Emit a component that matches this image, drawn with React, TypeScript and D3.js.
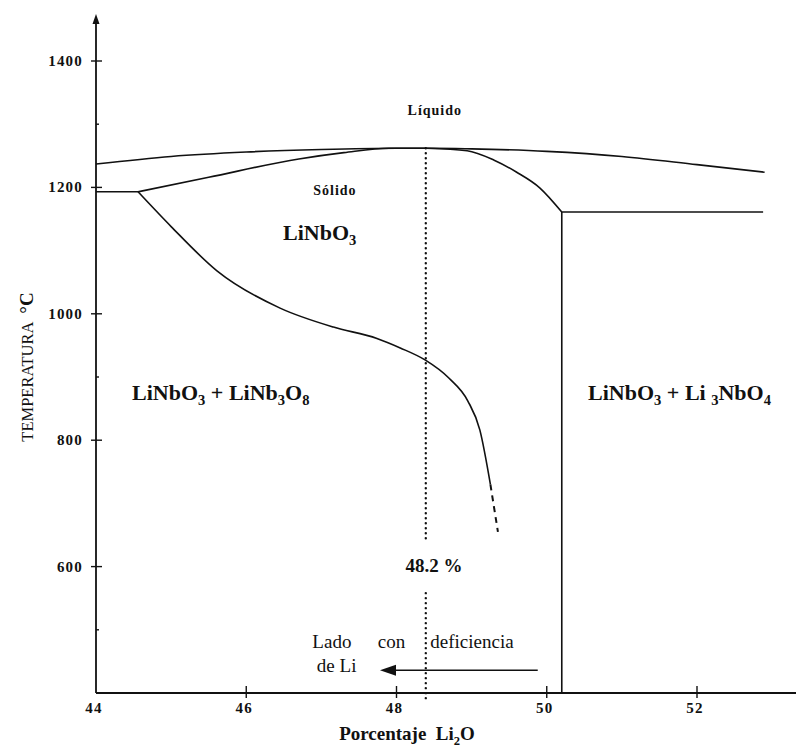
import * as d3 from 'd3'
import { useEffect, useRef } from 'react'

const WIDTH = 796
const HEIGHT = 749

// axis ticks
const yTicks = [600, 800, 1000, 1200, 1400]
const yMinorTicks = [500, 900, 1300]
const xTicks = [44, 46, 48, 50, 52]

// phase boundaries, [Li2O %, temperature °C]
const liquidus: [number, number][] = [
    [44, 1237], [45, 1249], [46, 1256], [47, 1260], [48, 1262], [48.5, 1262],
    [49, 1261], [50, 1257], [51, 1249], [52, 1236], [52.9, 1224],
]
const solidusLeftFlat: [number, number][] = [[44, 1193], [44.56, 1193]]
const solidusLeft: [number, number][] = [
    [44.56, 1193], [45.5, 1216], [46.7, 1245], [47.3, 1255], [47.9, 1262], [48.4, 1262],
]
const solidusRight: [number, number][] = [
    [48.4, 1262], [48.94, 1258], [49.3, 1243], [49.6, 1224], [49.91, 1199], [50.2, 1161],
]
const eutecticRight: [number, number][] = [[50.2, 1161], [52.88, 1161]]
const phaseWall: [number, number][] = [[50.2, 1161], [50.2, 400]]
const solvus: [number, number][] = [
    [44.56, 1193], [45.0, 1138], [45.61, 1068], [46.45, 1009], [47.16, 979],
    [47.74, 961], [48.05, 946], [48.38, 927], [48.7, 898], [48.95, 862], [49.11, 816], [49.25, 730],
]
const solvusExtrapolated: [number, number][] = [[49.25, 730], [49.35, 655]]

// congruent composition marker
const congruentX = 48.39
const dottedUpper: [number, number] = [1262, 642]
const dottedLower: [number, number] = [558, 384]

// arrow "Lado con deficiencia de Li"
const arrowFrom: [number, number] = [49.88, 436]
const arrowTo: [number, number] = [47.78, 436]

type Part = [string, boolean]
const formulaCenter: Part[] = [['LiNbO', false], ['3', true]]
const formulaLeft: Part[] = [['LiNbO', false], ['3', true], [' + LiNb', false], ['3', true], ['O', false], ['8', true]]
const formulaRight: Part[] = [['LiNbO', false], ['3', true], [' + Li ', false], ['3', true], ['NbO', false], ['4', true]]
const xTitle: Part[] = [['Porcentaje  Li', false], ['2', true], ['O', false]]

const SERIF = "'Liberation Serif', 'Times New Roman', serif"

const App = () => {
    const ref = useRef<SVGSVGElement>(null)

    useEffect(() => {
        const svg = d3.select(ref.current)
        svg.selectAll('*').remove()

        const x = d3.scaleLinear().domain([44, 52]).range([96, 697])
        const y = d3.scaleLinear().domain([400, 1400]).range([693, 61])

        const line = d3.line<[number, number]>()
            .x(d => x(d[0]))
            .y(d => y(d[1]))

        const curve = d3.line<[number, number]>()
            .x(d => x(d[0]))
            .y(d => y(d[1]))
            .curve(d3.curveMonotoneX)

        const g = svg.append('g').style('font-family', SERIF).attr('fill', '#111')

        // y axis with arrow
        g.append('line')
            .attr('x1', x(44)).attr('x2', x(44))
            .attr('y1', y(400)).attr('y2', 20)
            .attr('stroke', '#111').attr('stroke-width', 1.8)
        g.append('path')
            .attr('d', `M${x(44)},14 L${x(44) - 3.5},24 L${x(44) + 3.5},24 Z`)
            .attr('fill', '#111')

        g.selectAll('.ytick').data(yTicks).enter().append('line')
            .attr('x1', x(44) - 5).attr('x2', x(44) + 6)
            .attr('y1', d => y(d)).attr('y2', d => y(d))
            .attr('stroke', '#111').attr('stroke-width', 1.4)
        g.selectAll('.yminor').data(yMinorTicks).enter().append('line')
            .attr('x1', x(44)).attr('x2', x(44) + 3)
            .attr('y1', d => y(d)).attr('y2', d => y(d))
            .attr('stroke', '#111').attr('stroke-width', 1.4)
        g.selectAll('.ylabel').data(yTicks).enter().append('text')
            .attr('x', x(44) - 13).attr('y', d => y(d) + 5)
            .attr('text-anchor', 'end')
            .attr('font-size', 15).attr('font-weight', 'bold').attr('letter-spacing', 1.2)
            .text(d => d)

        // x axis
        g.append('line')
            .attr('x1', x(44)).attr('x2', WIDTH)
            .attr('y1', y(400)).attr('y2', y(400))
            .attr('stroke', '#111').attr('stroke-width', 1.8)
        g.selectAll('.xtick').data(xTicks.slice(1)).enter().append('line')
            .attr('x1', d => x(d)).attr('x2', d => x(d))
            .attr('y1', y(400) - 7).attr('y2', y(400) + 5)
            .attr('stroke', '#111').attr('stroke-width', 1.4)
        g.selectAll('.xlabel').data(xTicks).enter().append('text')
            .attr('x', d => x(d) - 2).attr('y', y(400) + 20)
            .attr('text-anchor', 'middle')
            .attr('font-size', 15).attr('font-weight', 'bold').attr('letter-spacing', 1.2)
            .text(d => d)

        // phase boundaries
        const solid = [liquidus, solidusLeft, solidusRight, solvus]
        solid.forEach(pts => {
            g.append('path').datum(pts)
                .attr('d', curve).attr('fill', 'none')
                .attr('stroke', '#111').attr('stroke-width', 1.6)
        })
        const straight = [solidusLeftFlat, eutecticRight, phaseWall]
        straight.forEach(pts => {
            g.append('path').datum(pts)
                .attr('d', line).attr('fill', 'none')
                .attr('stroke', '#111').attr('stroke-width', 1.6)
        })
        g.append('path').datum(solvusExtrapolated)
            .attr('d', line).attr('fill', 'none')
            .attr('stroke', '#111').attr('stroke-width', 2)
            .attr('stroke-dasharray', '6,5')

        // dotted congruent line
        ;[dottedUpper, dottedLower].forEach(([t0, t1]) => {
            g.append('line')
                .attr('x1', x(congruentX)).attr('x2', x(congruentX))
                .attr('y1', y(t0)).attr('y2', y(t1))
                .attr('stroke', '#111').attr('stroke-width', 2.4)
                .attr('stroke-linecap', 'round')
                .attr('stroke-dasharray', '0,5')
        })

        // arrow
        g.append('line')
            .attr('x1', x(arrowFrom[0])).attr('y1', y(arrowFrom[1]))
            .attr('x2', x(arrowTo[0]) + 14).attr('y2', y(arrowTo[1]))
            .attr('stroke', '#111').attr('stroke-width', 1.4)
        g.append('path')
            .attr('d', `M${x(arrowTo[0])},${y(arrowTo[1])} l16,-5.5 l0,11 Z`)
            .attr('fill', '#111')

        const rich = (parts: Part[], px: number, py: number, size: number, weight: string, anchor = 'start') => {
            const t = g.append('text')
                .attr('x', px).attr('y', py)
                .attr('font-size', size).attr('font-weight', weight)
                .attr('text-anchor', anchor)
                .style('white-space', 'pre')
            let down = false
            parts.forEach(([s, sub]) => {
                const sp = t.append('tspan').text(s)
                if (sub && !down) { sp.attr('dy', size * 0.25).attr('font-size', size * 0.66); down = true }
                else if (sub) sp.attr('font-size', size * 0.66)
                else if (down) { sp.attr('dy', -size * 0.25); down = false }
            })
            return t
        }

        // region labels
        rich(formulaCenter, x(46.49), y(1117), 22, 'bold')
        rich(formulaLeft, x(44.48), y(864), 22, 'bold')
        rich(formulaRight, x(50.55), y(864), 22, 'bold')

        g.append('text').attr('x', x(48.51)).attr('y', y(1315))
            .attr('text-anchor', 'middle').attr('font-size', 14).attr('font-weight', 'bold')
            .attr('letter-spacing', 1).text('Líquido')
        g.append('text').attr('x', x(47.18)).attr('y', y(1188))
            .attr('text-anchor', 'middle').attr('font-size', 14).attr('font-weight', 'bold')
            .attr('letter-spacing', 1).text('Sólido')
        g.append('text').attr('x', x(48.5)).attr('y', y(591))
            .attr('text-anchor', 'middle').attr('font-size', 19).attr('font-weight', 'bold')
            .text('48.2 %')

        const note = [
            { text: 'Lado', at: 46.88, t: 471 },
            { text: 'con', at: 47.75, t: 471 },
            { text: 'deficiencia', at: 48.45, t: 471 },
            { text: 'de Li', at: 46.94, t: 433 },
        ]
        note.forEach(n => {
            g.append('text').attr('x', x(n.at)).attr('y', y(n.t))
                .attr('font-size', 19).text(n.text)
        })

        // axis titles
        rich(xTitle, 407, 740, 19, 'bold', 'middle')
        const yt = g.append('text')
            .attr('transform', `translate(33, 367) rotate(-90)`)
            .attr('text-anchor', 'middle')
        yt.append('tspan').attr('font-size', 16.5).text('TEMPERATURA')
        yt.append('tspan').attr('font-size', 19).attr('font-weight', 'bold').attr('dx', 8).text('°C')
    }, [])

    return (
        <svg ref={ref} width={WIDTH} height={HEIGHT}
            style={{ position: 'absolute', left: 0, top: 0, background: '#fff' }} />
    )
}

export default App
